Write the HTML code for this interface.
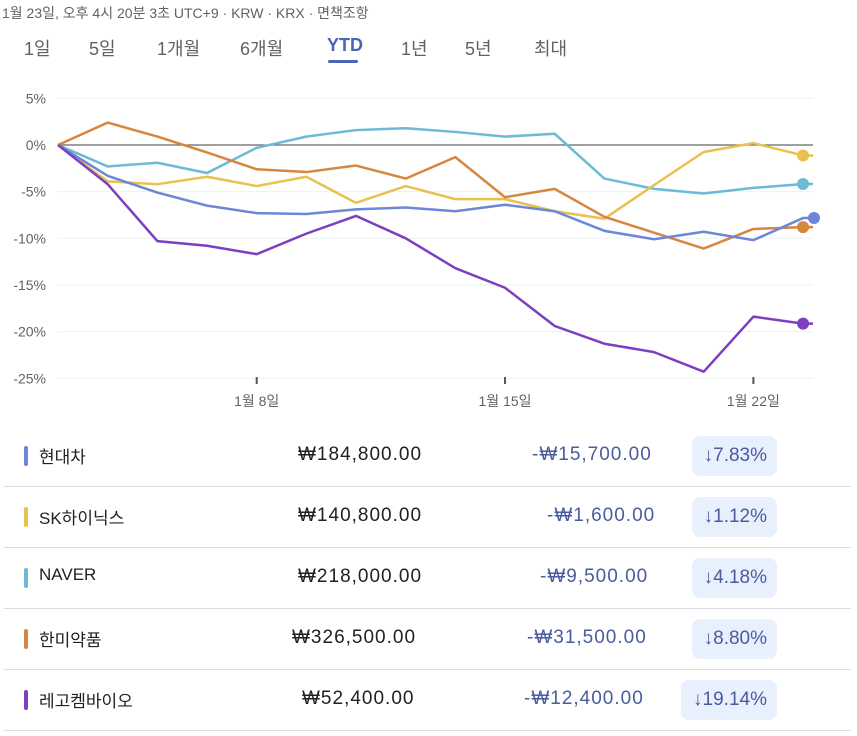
<!DOCTYPE html>
<html><head><meta charset="utf-8"><style>
body{margin:0;width:857px;height:736px;background:#fff;font-family:"Liberation Sans","Noto Sans CJK KR",sans-serif;position:relative;overflow:hidden}
.hdr{position:absolute;left:2px;top:3px;font-size:14px;color:#5f6368}
.tab{position:absolute;top:35px;font-size:18px;color:#5f6368}
.row{position:absolute;left:4px;width:847px;height:61px;border-bottom:1px solid #dadce0}
.sw{position:absolute;left:20px;top:21px;width:4px;height:20px;border-radius:2px}
.nm{position:absolute;left:35px;top:18px;font-size:17px;color:#202124}
.pr{position:absolute;top:19px;font-size:19px;color:#202124;letter-spacing:1px}
.ch{position:absolute;top:19px;font-size:19px;color:#4a5b9e;letter-spacing:1px}
.bd{position:absolute;top:11px;right:74px;height:40px;border-radius:8px;background:#e8f0fe;color:#4a5b9e;font-size:19px;line-height:40px;padding:0 10px 0 12px}
</style></head><body>
<div class="hdr">1월 23일, 오후 4시 20분 3초 UTC+9 · KRW · KRX · 면책조항</div>
<div class="tab" style="left:24px">1일</div>
<div class="tab" style="left:89px">5일</div>
<div class="tab" style="left:157px">1개월</div>
<div class="tab" style="left:240px">6개월</div>
<div class="tab" style="left:327px;color:#4a64b8;font-weight:bold">YTD</div>
<div style="position:absolute;left:328px;top:60px;width:30px;height:3px;background:#4a64b8;border-radius:2px"></div>
<div class="tab" style="left:401px">1년</div>
<div class="tab" style="left:465px">5년</div>
<div class="tab" style="left:534px">최대</div>

<svg id="chart" width="857" height="420" style="position:absolute;left:0;top:0"></svg>

<div class="row" style="top:425px"><div class="sw" style="background:#6d87d8"></div><div class="nm">현대차</div><div class="pr" style="left:294px">₩184,800.00</div><div class="ch" style="left:528px">-₩15,700.00</div><div class="bd">↓7.83%</div></div>
<div class="row" style="top:486px"><div class="sw" style="background:#e8c14f"></div><div class="nm">SK하이닉스</div><div class="pr" style="left:294px">₩140,800.00</div><div class="ch" style="left:543px">-₩1,600.00</div><div class="bd">↓1.12%</div></div>
<div class="row" style="top:547px"><div class="sw" style="background:#6cbad6"></div><div class="nm">NAVER</div><div class="pr" style="left:294px">₩218,000.00</div><div class="ch" style="left:536px">-₩9,500.00</div><div class="bd">↓4.18%</div></div>
<div class="row" style="top:608px"><div class="sw" style="background:#d6873f"></div><div class="nm">한미약품</div><div class="pr" style="left:288px">₩326,500.00</div><div class="ch" style="left:523px">-₩31,500.00</div><div class="bd">↓8.80%</div></div>
<div class="row" style="top:669px"><div class="sw" style="background:#7b3fc0"></div><div class="nm">레고켐바이오</div><div class="pr" style="left:298px">₩52,400.00</div><div class="ch" style="left:520px">-₩12,400.00</div><div class="bd">↓19.14%</div></div>

<script>
const dates=["1/2","1/3","1/4","1/5","1/8","1/9","1/10","1/11","1/12","1/15","1/16","1/17","1/18","1/19","1/22","1/23"];
const yTicks=[5,0,-5,-10,-15,-20,-25];
const xTickIdx=[4,9,14];
const xTickLabels=["1월 8일","1월 15일","1월 22일"];
const hyundai=[0,-3.3,-5.1,-6.5,-7.3,-7.4,-6.9,-6.7,-7.1,-6.4,-7.1,-9.2,-10.1,-9.3,-10.2,-7.83];
const skhynix=[0,-3.9,-4.2,-3.4,-4.4,-3.4,-6.2,-4.4,-5.8,-5.8,-7.1,-7.9,-4.3,-0.75,0.2,-1.12];
const naver=[0,-2.3,-1.9,-3.0,-0.3,0.9,1.6,1.8,1.4,0.9,1.2,-3.6,-4.7,-5.2,-4.6,-4.18];
const hanmi=[0,2.4,0.9,-0.8,-2.6,-2.9,-2.2,-3.6,-1.3,-5.6,-4.7,-7.7,-9.4,-11.1,-9.0,-8.8];
const legochem=[0,-4.2,-10.3,-10.8,-11.7,-9.5,-7.6,-10.0,-13.2,-15.3,-19.4,-21.3,-22.2,-24.3,-18.4,-19.14];
const NS="http://www.w3.org/2000/svg";
const svg=document.getElementById('chart');
const x=i=>58+i*49.67;
const y=v=>145-v*9.33;
function mk(t,a){const e=document.createElementNS(NS,t);for(const k in a)e.setAttribute(k,a[k]);svg.appendChild(e);return e;}
yTicks.forEach(v=>{
  const g=mk('line',{x1:58,x2:813,y1:y(v),y2:y(v),stroke:v===0?'#666':'#eef0f2','stroke-width':v===0?1.2:1});
  
  
  const t=mk('text',{x:46,y:y(v)+5,'text-anchor':'end','font-size':14,fill:'#5f6368'});
  t.textContent=v+'%';
  
  
});
xTickIdx.forEach((i,k)=>{
  const l=mk('line',{x1:x(i),x2:x(i),y1:377,y2:384,stroke:'#555','stroke-width':2});
  
  
  const t=mk('text',{x:x(i),y:406,'text-anchor':'middle','font-size':14,fill:'#5f6368'});
  t.textContent=xTickLabels[k];
  
  
});
const series=[[naver,'#6cbad6','naver'],[skhynix,'#e8c14f','skhynix'],[hanmi,'#d6873f','hanmi'],[hyundai,'#6d87d8','hyundai'],[legochem,'#7b3fc0','legochem']];
series.forEach(([d,c,n])=>{
  const pts=d.map((v,i)=>x(i)+','+y(v));
  pts.push('813,'+y(d[d.length-1]));
  const p=mk('polyline',{points:pts.join(' '),fill:'none',stroke:c,'stroke-width':2.5,'stroke-linejoin':'round'});
  
  
  const dot=mk('circle',{cx:n==='hyundai'?814:x(d.length-1),cy:y(d[d.length-1]),r:6,fill:c});
  
  
});
</script>
</body></html>
